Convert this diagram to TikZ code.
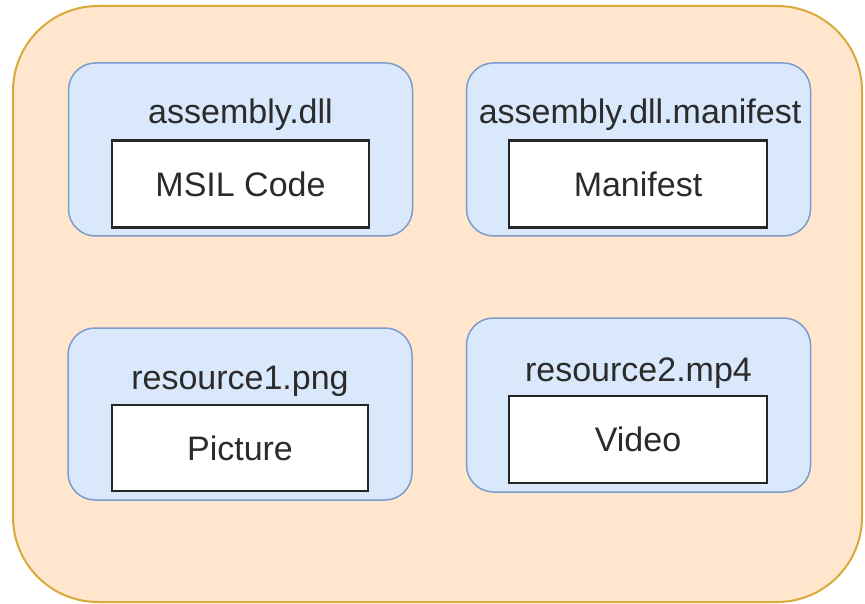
\documentclass[tikz,border=0pt]{standalone}
\usepackage{fontspec}
\setmainfont{Liberation Sans}
\definecolor{outerfill}{HTML}{FFE6CC}
\definecolor{outerdraw}{HTML}{D9A93A}
\definecolor{bluefill}{HTML}{DAE8FC}
\definecolor{bluedraw}{HTML}{7C9CCB}
\definecolor{txt}{HTML}{2B2B2B}
\tikzset{
  outerbox/.style={draw=outerdraw, fill=outerfill, line width=2pt, rounded corners=85pt,
    minimum width=849pt, minimum height=596pt, inner sep=0pt, outer sep=0pt},
  filebox/.style={draw=bluedraw, fill=bluefill, line width=1.5pt, rounded corners=27pt,
    minimum width=344pt, minimum height=173pt, inner sep=0pt, outer sep=0pt},
  contentbox/.style={draw=black!85, fill=white, line width=2.5pt,
    minimum width=257pt, minimum height=87pt, inner sep=0pt, outer sep=0pt,
    text=txt, font=\fontsize{34}{40}\selectfont},
  filelabel/.style={text=txt, font=\fontsize{34}{40}\selectfont, inner sep=0pt, anchor=base}
}
\begin{document}
\begin{tikzpicture}[x=1pt,y=-1pt]
\useasboundingbox (0,0) rectangle (865,604);
\node[outerbox] (outer) at (437.5,304) {};
\node[filebox] (f1) at (240.5,149.5) {};
\node[filebox] (f2) at (638.5,149.5) {};
\node[filebox, minimum height=172pt] (f3) at (240,414) {};
\node[filebox, minimum height=174pt] (f4) at (638.5,405) {};
\node[filelabel] (l1) at (240.5,124) {assembly.dll};
\node[filelabel] (l2) at (640,124) {assembly.dll.manifest};
\node[filelabel] (l3) at (240,389) {resource1.png};
\node[filelabel] (l4) at (638.5,381) {resource2.mp4};
\node[contentbox] (c1) at (240.5,184) {MSIL Code};
\node[contentbox, minimum width=258pt] (c2) at (638,184) {Manifest};
\node[contentbox, minimum width=256pt, minimum height=86pt] (c3) at (240,448) {Picture};
\node[contentbox, minimum width=258pt] (c4) at (638,439.5) {Video};
\end{tikzpicture}
\end{document}
